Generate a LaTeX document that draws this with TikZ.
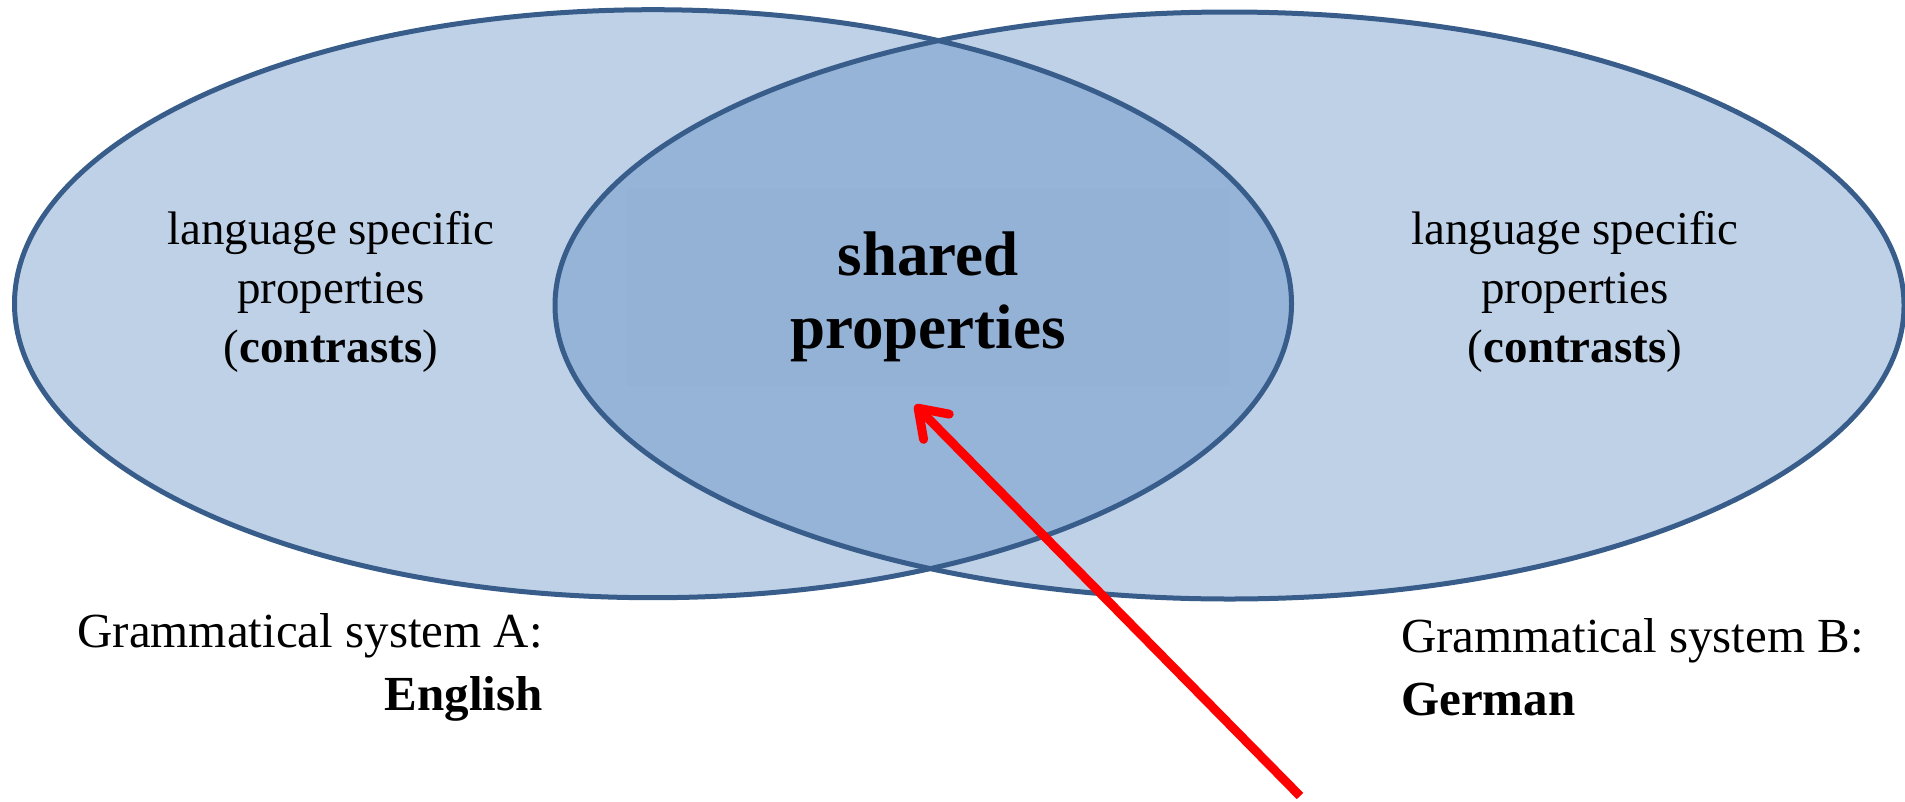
\documentclass[tikz,border=0pt]{standalone}
\usepackage{fontspec}
\setmainfont{Liberation Serif}
\usetikzlibrary{arrows.meta}
\definecolor{vfill}{HTML}{4F81BD}
\definecolor{vline}{HTML}{385D8A}
\definecolor{arrowred}{HTML}{FF0000}
\begin{document}
\begin{tikzpicture}[x=1pt,y=-1pt,
  setfill/.style={fill=vfill, fill opacity=0.365},
  setline/.style={draw=vline, line width=5pt},
  lbl/.style={inner sep=0pt, font=\fontsize{47}{59}\selectfont, text=black},
  syslbl/.style={inner sep=0pt, font=\fontsize{49}{63}\selectfont, text=black},
  sharedlbl/.style={inner sep=0pt, font=\fontsize{63}{73}\selectfont\bfseries, text=black, align=center},
  pointer/.style={draw=arrowred, line width=9pt, -{Straight Barb[length=26pt,width=36pt,round]}}]
\useasboundingbox (0,0) rectangle (1905,801);
% fills
\fill[setfill] (653,303.7) ellipse [x radius=638.5, y radius=294];
\fill[setfill] (1229.5,305.5) ellipse [x radius=674.5, y radius=293.5];
% faint text box
\fill[black, fill opacity=0.012] (627,188) rectangle (1230,386);
% outlines
\draw[setline] (653,303.7) ellipse [x radius=638.5, y radius=294];
\draw[setline] (1229.5,305.5) ellipse [x radius=674.5, y radius=293.5];
% texts
\node[lbl, align=center] (specA) at (331,292) {language specific\\properties\\(\textbf{contrasts})};
\node[lbl, align=center] (specB) at (1575,292) {language specific\\properties\\(\textbf{contrasts})};
\node[sharedlbl] (shared) at (928,297) {shared\\properties};
\node[syslbl, align=right, anchor=east] (sysA) at (543,667) {Grammatical system A:\\\textbf{English}};
\node[syslbl, align=left, anchor=west] (sysB) at (1401,667) {Grammatical system B:\\\textbf{German}};
% arrow
\coordinate (tail) at (1300,796);
\coordinate (tip) at (915,405);
\draw[pointer] (tail) -- (tip);
\end{tikzpicture}
\end{document}
